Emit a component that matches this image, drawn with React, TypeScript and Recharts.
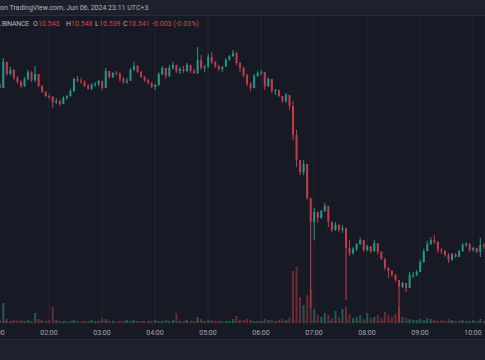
import React from 'react';
import { ComposedChart, Bar, XAxis, YAxis, CartesianGrid, Cell, ReferenceLine } from 'recharts';

// ---- data (4-minute candles, minutes since 00:00) ----
const START_MIN = 64;
const STEP_MIN = 4;
const FIRST_OPEN = 10.966;

const closes = [
  10.955, 11.024, 10.992, 11.003, 10.982, 10.971, 10.960, 10.979, 10.997, 10.976,
  10.992, 10.960, 10.945, 10.934, 10.932, 10.918, 10.921, 10.913, 10.929, 10.934,
  10.947, 10.979, 10.974, 10.971, 10.960, 10.953, 10.963, 10.966, 10.974, 10.955,
  11.000, 10.984, 10.995, 10.992, 10.979, 10.971, 10.974, 11.003, 11.013, 10.997,
  10.984, 10.976, 10.968, 10.958, 10.963, 10.992, 11.008, 10.987, 11.008, 11.016,
  11.000, 11.005, 11.000, 11.016, 11.000, 10.995, 11.029, 11.008, 11.011, 11.037,
  11.024, 11.013, 11.005, 11.011, 11.029, 11.039, 11.047, 11.021, 11.008, 10.989,
  10.966, 10.955, 10.987, 10.995, 10.997, 10.960, 10.979, 10.947, 10.950, 10.934,
  10.921, 10.937, 10.908, 10.832, 10.766, 10.734, 10.755, 10.666, 10.603, 10.629,
  10.613, 10.632, 10.645, 10.603, 10.582, 10.595, 10.582, 10.587, 10.534, 10.521,
  10.532, 10.545, 10.555, 10.529, 10.539, 10.526, 10.547, 10.524, 10.505, 10.482,
  10.474, 10.463, 10.450, 10.432, 10.442, 10.429, 10.463, 10.463, 10.471, 10.497,
  10.526, 10.545, 10.555, 10.550, 10.529, 10.526, 10.516, 10.503, 10.518, 10.511,
  10.526, 10.542, 10.545, 10.529, 10.534, 10.524, 10.542, 10.541,
];

const highs = [
  10.968, 11.034, 11.024, 11.011, 11.005, 10.987, 10.976, 10.984, 11.003, 11.000,
  11.013, 10.992, 10.963, 10.947, 10.939, 10.934, 10.929, 10.924, 10.934, 10.937,
  10.953, 10.982, 10.987, 10.982, 10.976, 10.966, 10.968, 10.971, 10.976, 10.974,
  11.008, 11.000, 10.997, 11.000, 10.997, 10.984, 10.982, 11.008, 11.024, 11.016,
  11.000, 10.987, 10.979, 10.971, 10.966, 10.997, 11.013, 11.008, 11.016, 11.024,
  11.016, 11.011, 11.013, 11.021, 11.016, 11.005, 11.063, 11.042, 11.016, 11.045,
  11.050, 11.026, 11.016, 11.013, 11.034, 11.042, 11.055, 11.050, 11.024, 11.011,
  10.992, 10.971, 10.992, 11.000, 11.003, 10.997, 10.984, 10.979, 10.953, 10.950,
  10.934, 10.942, 10.937, 10.921, 10.845, 10.766, 10.766, 10.755, 10.666, 10.639,
  10.629, 10.634, 10.653, 10.642, 10.603, 10.603, 10.597, 10.595, 10.587, 10.555,
  10.537, 10.547, 10.563, 10.555, 10.542, 10.539, 10.555, 10.547, 10.526, 10.508,
  10.484, 10.476, 10.466, 10.450, 10.445, 10.442, 10.471, 10.471, 10.476, 10.503,
  10.532, 10.553, 10.563, 10.568, 10.553, 10.534, 10.529, 10.521, 10.521, 10.521,
  10.529, 10.547, 10.550, 10.547, 10.537, 10.534, 10.561, 10.547,
];

const lows = [
  10.953, 10.955, 10.987, 10.989, 10.976, 10.966, 10.955, 10.958, 10.976, 10.971,
  10.971, 10.958, 10.942, 10.932, 10.926, 10.903, 10.913, 10.908, 10.913, 10.924,
  10.932, 10.945, 10.971, 10.966, 10.958, 10.950, 10.950, 10.958, 10.960, 10.950,
  10.955, 10.979, 10.982, 10.987, 10.971, 10.966, 10.966, 10.974, 11.000, 10.995,
  10.982, 10.971, 10.966, 10.955, 10.950, 10.960, 10.989, 10.979, 10.984, 11.003,
  10.995, 10.992, 10.995, 10.997, 10.995, 10.992, 10.992, 11.003, 10.997, 11.008,
  11.018, 11.008, 11.000, 10.997, 11.011, 11.026, 11.037, 11.016, 10.997, 10.984,
  10.960, 10.947, 10.955, 10.984, 10.989, 10.950, 10.958, 10.942, 10.937, 10.932,
  10.916, 10.916, 10.897, 10.818, 10.747, 10.726, 10.726, 10.661, 10.376, 10.555,
  10.600, 10.611, 10.629, 10.589, 10.576, 10.579, 10.576, 10.574, 10.397, 10.513,
  10.516, 10.526, 10.542, 10.524, 10.526, 10.521, 10.524, 10.516, 10.503, 10.476,
  10.455, 10.458, 10.445, 10.340, 10.429, 10.418, 10.429, 10.455, 10.460, 10.471,
  10.495, 10.526, 10.542, 10.545, 10.521, 10.518, 10.511, 10.495, 10.500, 10.508,
  10.511, 10.524, 10.537, 10.524, 10.524, 10.521, 10.511, 10.532,
];

// volume in thousands
const volumes = [
  3, 20, 4, 2, 3, 2, 3, 2, 3, 2,
  10, 4, 3, 2, 3, 16, 3, 2, 2, 1,
  2, 3, 2, 1, 2, 2, 3, 2, 2, 5,
  4, 2, 2, 1, 2, 2, 3, 2, 3, 2,
  2, 1, 2, 2, 3, 2, 2, 3, 2, 3,
  10, 2, 2, 3, 2, 2, 6, 4, 2, 3,
  3, 2, 2, 1, 2, 2, 4, 7, 3, 3,
  4, 3, 2, 2, 2, 4, 3, 3, 2, 3,
  4, 3, 5, 52, 56, 26, 18, 28, 34, 14,
  8, 6, 10, 8, 5, 12, 6, 14, 16, 9,
  5, 6, 8, 4, 10, 5, 6, 8, 5, 11,
  8, 6, 9, 16, 6, 5, 4, 3, 3, 4,
  3, 5, 4, 3, 2, 3, 2, 4, 3, 2,
  2, 3, 2, 2, 3, 2, 4, 2,
];

const hourTicks = [60, 120, 180, 240, 300, 360, 420, 480, 540, 600];
const priceGridTicks = [
  10.35, 10.4, 10.45, 10.5, 10.55, 10.6, 10.65, 10.7,
  10.75, 10.8, 10.85, 10.9, 10.95, 11.0, 11.05, 11.1,
];

const topLine = 'on TradingView.com, Jun 06, 2024 23:11 UTC+3';
const symbolText = '1, BINANCE';
const ohlcLabels = ['O', 'H', 'L', 'C'];
const ohlcValues = ['10.543', '10.548', '10.539', '10.541'];
const changeText = '-0.003 (-0.03%)';

// ---- styles ----
const BG = '#171a24';
const TOPBAR = '#1e212b';
const SEP = '#2a2d38';
const GRID = '#222530';
const UP = '#1f9a8a';
const DOWN = '#c23c4b';
const VOL_UP = '#1c5c57';
const VOL_DOWN = '#6b2a34';
const TEXT = '#b2b5be';
const RED_TEXT = '#d8434f';
const FONT = 'Roboto, "Noto Sans", sans-serif';

const candles = closes.map((c, i) => {
  const o = i === 0 ? FIRST_OPEN : closes[i - 1];
  const h = Math.max(highs[i], o, c);
  const l = Math.min(lows[i], o, c);
  return {
    t: START_MIN + STEP_MIN * i,
    open: o,
    close: c,
    high: h,
    low: l,
    range: [l, h],
    volume: volumes[i],
    up: c >= o,
  };
});

const Candle = (props: any) => {
  const { x, y, width, height, payload } = props;
  if (!payload || x == null || y == null) return null;
  const { open, close, high, low, up } = payload;
  const color = up ? UP : DOWN;
  const top = Math.min(y, y + height);
  const h = Math.abs(height);
  const span = high - low;
  const ratio = span > 0 ? h / span : 0;
  const bTop = top + (high - Math.max(open, close)) * ratio;
  const bBot = top + (high - Math.min(open, close)) * ratio;
  const cx = x + width / 2;
  return (
    <g>
      <line x1={cx} x2={cx} y1={top} y2={top + Math.max(h, 1)} stroke={color} strokeWidth={1} />
      <rect x={x} y={bTop} width={width} height={Math.max(1, bBot - bTop)} fill={color} />
    </g>
  );
};

const fmtHour = (v: number) => `${String(Math.round(v / 60)).padStart(2, '0')}:00`;

const txt = (
  s: string,
  pos: { left?: number; right?: number },
  top: number,
  color: string,
  size: number,
  key?: string,
  spacing = 0,
) => (
  <div
    key={key}
    style={{
      position: 'absolute',
      ...pos,
      top,
      fontSize: size,
      lineHeight: '10px',
      color,
      whiteSpace: 'nowrap',
      fontFamily: FONT,
      letterSpacing: spacing,
    }}
  >
    {s}
  </div>
);

const labelX = [33, 66, 95, 123];
const valueX = [38, 71, 99, 128];

export default function App() {
  return (
    <div
      style={{
        position: 'fixed',
        left: 0,
        top: 0,
        width: 485,
        height: 360,
        background: BG,
        overflow: 'hidden',
        fontFamily: FONT,
      }}
    >
      <div style={{ position: 'absolute', left: -20, top: 15 }}>
        <ComposedChart width={505} height={324} data={candles} margin={{ top: 0, right: 0, bottom: 0, left: 0 }}>
          <CartesianGrid xAxisId="x" yAxisId="price" stroke={GRID} strokeWidth={1} />
          <XAxis
            xAxisId="x"
            dataKey="t"
            type="number"
            domain={[41.9, 613.6]}
            allowDataOverflow
            ticks={hourTicks}
            interval={0}
            tickFormatter={fmtHour}
            tick={{ fill: '#a6a9b1', fontSize: 7, fontFamily: FONT }}
            axisLine={false}
            tickLine={false}
            tickSize={0}
            tickMargin={7}
            height={16}
          />
          <XAxis xAxisId="xv" dataKey="t" type="number" domain={[41.9, 613.6]} allowDataOverflow hide />
          <YAxis
            yAxisId="price"
            domain={[10.3368, 11.1473]}
            allowDataOverflow
            ticks={priceGridTicks}
            interval={0}
            width={0}
            tick={false}
            axisLine={false}
            tickLine={false}
          />
          <YAxis yAxisId="vol" domain={[0, 308]} allowDataOverflow hide />
          <Bar xAxisId="xv" yAxisId="vol" dataKey="volume" barSize={2} isAnimationActive={false}>
            {candles.map((d, i) => (
              <Cell key={i} fill={d.up ? VOL_UP : VOL_DOWN} />
            ))}
          </Bar>
          <ReferenceLine xAxisId="xv" yAxisId="vol" y={1.5} stroke="#7a2c37" strokeDasharray="3 3" strokeWidth={1} />
          <Bar xAxisId="x" yAxisId="price" dataKey="range" barSize={2} shape={Candle} isAnimationActive={false} />
        </ComposedChart>
      </div>

      {/* top bar */}
      <div style={{ position: 'absolute', left: 0, top: 0, width: 485, height: 15, background: TOPBAR }} />
      <div style={{ position: 'absolute', left: 0, top: 15, width: 485, height: 1, background: SEP }} />
      {txt(topLine, { left: 0 }, 3, TEXT, 7)}

      {/* legend row */}
      {txt(symbolText, { right: 456 }, 19, TEXT, 7, 'sym', -0.3)}
      {ohlcLabels.map((l, i) => txt(l, { left: labelX[i] }, 19, TEXT, 7, 'l' + i))}
      {ohlcValues.map((v, i) => txt(v, { left: valueX[i] }, 19, RED_TEXT, 7, 'v' + i))}
      {txt(changeText, { left: 152 }, 19, RED_TEXT, 7)}

      {/* bottom strip */}
      <div style={{ position: 'absolute', left: 0, top: 339, width: 485, height: 1, background: SEP }} />
      <div style={{ position: 'absolute', left: 0, top: 340, width: 485, height: 20, background: TOPBAR }} />
    </div>
  );
}
